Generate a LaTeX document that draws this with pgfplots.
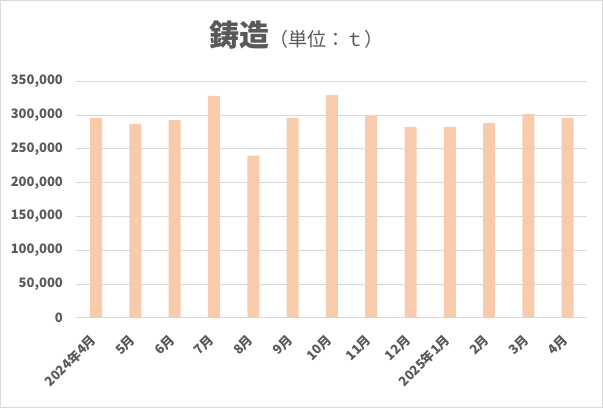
\documentclass[border=0pt]{standalone}
\usepackage{fontspec}
\setmainfont{Noto Sans CJK JP}
\usepackage{pgfplots}
\pgfplotsset{compat=1.18}
\definecolor{barc}{HTML}{F8CBAD}
\definecolor{txt}{HTML}{595959}
\definecolor{gridc}{HTML}{D9D9D9}
\begin{document}
\begin{tikzpicture}[x=1pt,y=1pt]
\fill[white] (0,0) rectangle (603,408);
\begin{axis}[at={(76.4pt,90.1pt)}, anchor=south west, scale only axis,
  width=511pt, height=236.6pt,
  xmin=-0.5, xmax=12.5, ymin=0, ymax=350000,
  ytick={0,50000,100000,150000,200000,250000,300000,350000},
  yticklabels={0,{50,000},{100,000},{150,000},{200,000},{250,000},{300,000},{350,000}},
  xtick={0,...,12},
  xticklabels={2024年4月,5月,6月,7月,8月,9月,10月,11月,12月,2025年1月,2月,3月,4月},
  ybar, bar width=12pt,
  axis line style={draw=none}, tick style={draw=none},
  ymajorgrids, grid style={gridc, line width=0.9pt},
  scaled y ticks=false,
  ticklabel style={font=\fontsize{13}{13}\selectfont\bfseries, text=txt},
  yticklabel style={xshift=-10pt},
  xticklabel style={yshift=-13pt, rotate=45, anchor=east},
  clip=false,
]
\addplot[fill=barc, draw=none] coordinates {
(0,295600) (1,287100) (2,292600) (3,328500) (4,240100) (5,295600) (6,329800)
(7,299000) (8,282200) (9,282200) (10,288200) (11,301500) (12,295600)};
\end{axis}
\node[text=txt, inner sep=0pt] at (296,373) {{\fontsize{30}{30}\selectfont\bfseries 鋳造}{\fontsize{19}{19}\selectfont （単位：ｔ）}};
\draw[gridc, line width=1pt] (0.5,0.5) rectangle (602.5,407.5);
\end{tikzpicture}
\end{document}
